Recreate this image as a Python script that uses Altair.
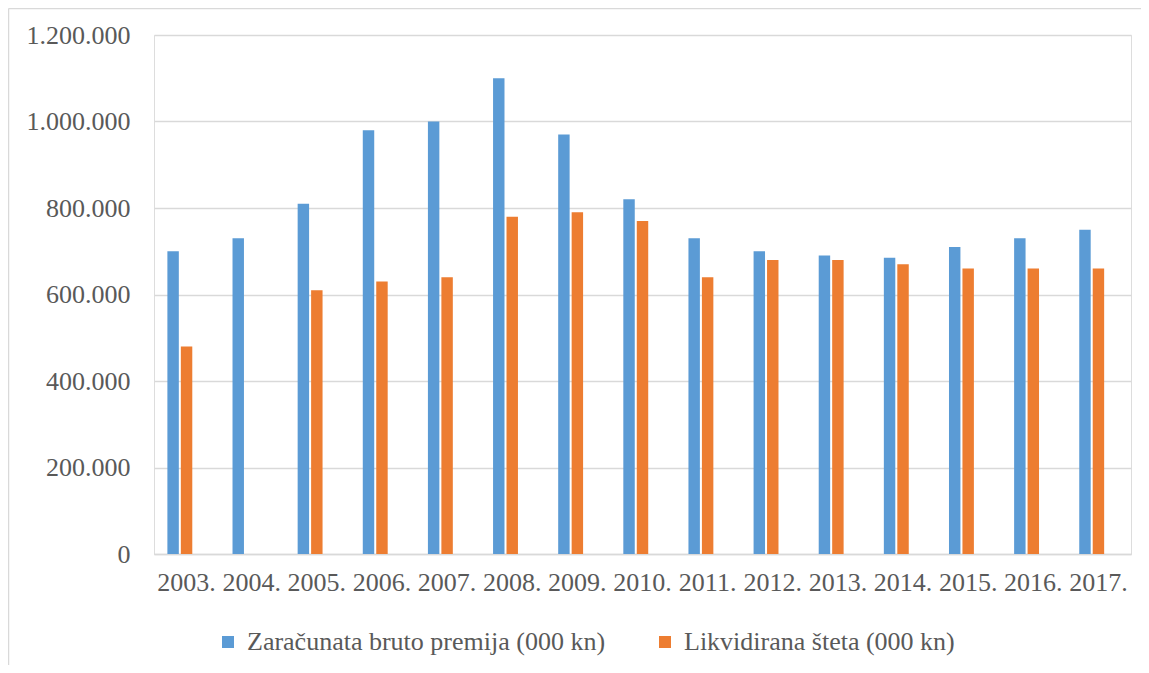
import altair as alt
import pandas as pd

years = ["2003.", "2004.", "2005.", "2006.", "2007.", "2008.", "2009.", "2010.",
         "2011.", "2012.", "2013.", "2014.", "2015.", "2016.", "2017."]
premija = [700000, 730000, 810000, 980000, 1000000, 1100000, 970000, 820000,
           730000, 700000, 690000, 685000, 710000, 730000, 750000]
steta = [480000, None, 610000, 630000, 640000, 780000, 790000, 770000,
         640000, 680000, 680000, 670000, 660000, 660000, 660000]
series = ["Zaračunata bruto premija (000 kn)", "Likvidirana šteta (000 kn)"]
colors = ["#5B9BD5", "#ED7D31"]

rows = []
for y, p, s in zip(years, premija, steta):
    rows.append({"year": y, "series": series[0], "value": p})
    if s is not None:
        rows.append({"year": y, "series": series[1], "value": s})
df = pd.DataFrame(rows)

FONT = "'Times New Roman', 'Liberation Serif', serif"
TXT = "#595959"

bars = alt.Chart(df).mark_bar().encode(
    x=alt.X("year:N", sort=years,
            scale=alt.Scale(paddingInner=0.38, paddingOuter=0.19),
            axis=alt.Axis(title=None, labelAngle=0, ticks=False, domain=True,
                          domainColor="#d9d9d9", domainWidth=1.5, grid=False,
                          labelFont=FONT, labelFontSize=26, labelColor=TXT,
                          labelPadding=15)),
    xOffset=alt.XOffset("series:N",
                        scale=alt.Scale(domain=series + ["_"], paddingInner=0.15,
                                        paddingOuter=0.075)),
    y=alt.Y("value:Q",
            scale=alt.Scale(domain=[0, 1200000], nice=False),
            axis=alt.Axis(title=None, values=[0, 200000, 400000, 600000, 800000, 1000000, 1200000],
                          labelExpr="replace(format(datum.value, ','), /,/g, '.')",
                          ticks=False, domain=False, grid=True, gridColor="#d9d9d9",
                          gridWidth=1.5, labelFont=FONT, labelFontSize=26,
                          labelColor=TXT, labelPadding=24)),
    color=alt.Color("series:N", sort=series,
                    scale=alt.Scale(domain=series, range=colors),
                    legend=alt.Legend(title=None, orient="none", direction="horizontal",
                                      legendX=61, legendY=594, symbolType="square",
                                      symbolSize=144, symbolStrokeWidth=0,
                                      labelFont=FONT, labelFontSize=26, labelColor=TXT,
                                      labelOffset=6, columnPadding=46, padding=0,
                                      labelLimit=600)),
)

border = pd.DataFrame({"k": [0]})
left_line = alt.Chart(border).mark_rule(color="#d9d9d9", strokeWidth=1.5).encode(
    x=alt.value(-145.5), y=alt.value(-26.5), y2=alt.value(700))
top_line = alt.Chart(border).mark_rule(color="#d9d9d9", strokeWidth=1.5).encode(
    x=alt.value(-145.5), x2=alt.value(1000), y=alt.value(-26.5))

chart = alt.layer(bars, left_line, top_line).properties(
    width=977, height=519,
    autosize=alt.AutoSizeParams(type="none"),
    padding={"left": 146, "top": 27, "right": 10, "bottom": 111},
).configure_view(stroke=None).configure(background="white")

chart.save("out.html", embed_options={"renderer": "svg", "actions": False})
